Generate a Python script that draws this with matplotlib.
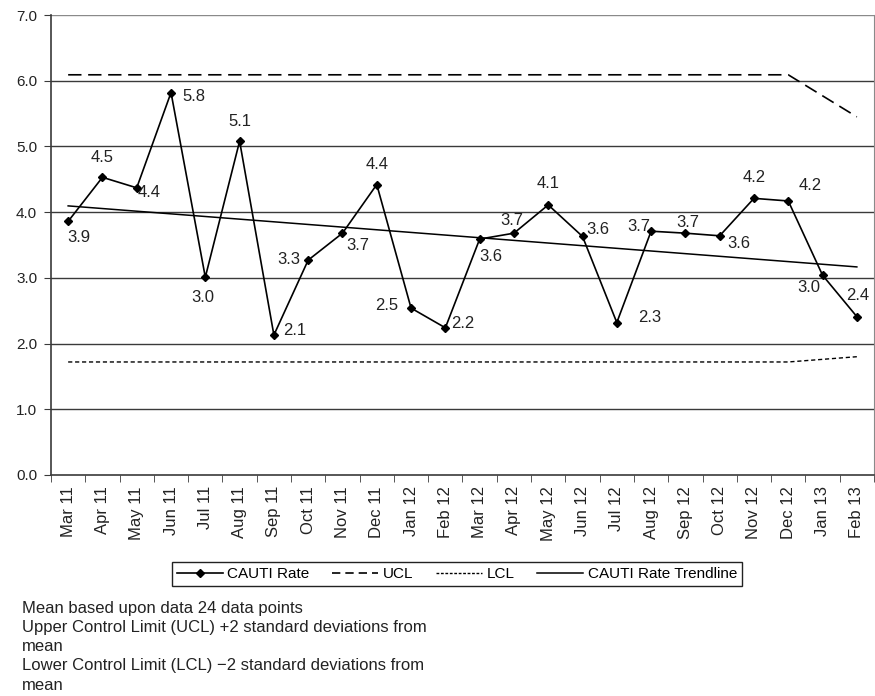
import numpy as np
import matplotlib
matplotlib.use('Agg')
from matplotlib import pyplot as plt
from matplotlib.lines import Line2D

plt.rcParams['font.family'] = ['Liberation Sans', 'DejaVu Sans']

months = ['Mar 11', 'Apr 11', 'May 11', 'Jun 11', 'Jul 11', 'Aug 11', 'Sep 11', 'Oct 11',
          'Nov 11', 'Dec 11', 'Jan 12', 'Feb 12', 'Mar 12', 'Apr 12', 'May 12', 'Jun 12',
          'Jul 12', 'Aug 12', 'Sep 12', 'Oct 12', 'Nov 12', 'Dec 12', 'Jan 13', 'Feb 13']
cauti_rate = [3.86, 4.53, 4.37, 5.82, 3.01, 5.08, 2.13, 3.27, 3.68, 4.42, 2.54, 2.24,
              3.59, 3.68, 4.11, 3.63, 2.32, 3.71, 3.68, 3.64, 4.21, 4.17, 3.04, 2.41]
ucl = [6.09] * 22 + [5.77, 5.45]
lcl = [1.72] * 22 + [1.76, 1.80]

notes = ['Mean based upon data 24 data points',
         'Upper Control Limit (UCL) +2 standard deviations from',
         'mean',
         'Lower Control Limit (LCL) \u22122 standard deviations from',
         'mean']

# label placement: (dx, dy) in pixels, horizontal alignment
label_pos = [(-1, -16, 'left'), (0, 20, 'center'), (1, -5, 'left'), (11, -4, 'left'),
             (-3, -20, 'center'), (0, 20, 'center'), (9, 5, 'left'), (-8, 1, 'right'),
             (4, -12, 'left'), (0, 20, 'center'), (-13, 3, 'right'), (6, 4, 'left'),
             (0, -17, 'left'), (-2, 13, 'center'), (0, 21, 'center'), (4, 7, 'left'),
             (21, 5, 'left'), (-1, 5, 'right'), (2, 11, 'center'), (8, -8, 'left'),
             (0, 21, 'center'), (10, 15, 'left'), (-2, -12, 'right'), (1, 21, 'center')]

x = np.arange(len(months))
slope, icpt = np.polyfit(x, cauti_rate, 1)
trend = slope * x + icpt

fig = plt.figure(figsize=(8.75, 6.96), dpi=100)
ax = fig.add_axes([51 / 875, 1 - 475 / 696, 823 / 875, 460 / 696])

for v in range(1, 8):
    ax.axhline(v, color='#8a8a8a' if v == 7 else '#3a3a3a', lw=1.0, zorder=1)

ax.plot(x, ucl, color='black', lw=1.2, dashes=(8, 4), zorder=2)
ax.plot(x, lcl, color='black', lw=1.0, dashes=(3, 2), zorder=2)
ax.plot(x, trend, color='black', lw=1.1, zorder=2)
ax.plot(x, cauti_rate, color='black', lw=1.2, marker='D', ms=4.5, zorder=3)

for i, v in enumerate(cauti_rate):
    dx, dy, ha = label_pos[i]
    ax.annotate(f'{v:.1f}', (x[i], v), xytext=(dx, dy), textcoords='offset pixels',
                ha=ha, va='center', fontsize=12, color='#222222')

ax.set_xlim(-0.5, len(months) - 0.5)
ax.set_ylim(0, 7)
ax.set_yticks(range(8))
ax.set_yticklabels([f'{v:.1f}' for v in range(8)], fontsize=11, color='#222222')
ax.set_xticks(x)
ax.set_xticklabels(months, rotation=90, fontsize=12, color='#222222')
ax.set_xticks(np.arange(-0.5, len(months)), minor=True)
ax.tick_params(axis='x', which='major', length=0, pad=8)
ax.tick_params(axis='x', which='minor', length=5, color='#3a3a3a')
ax.tick_params(axis='y', length=5, color='#3a3a3a', pad=5)

for s in ['left', 'bottom']:
    ax.spines[s].set_color('#3a3a3a')
    ax.spines[s].set_linewidth(1.2)
ax.spines['top'].set_visible(False)
ax.spines['right'].set_color('#8a8a8a')

handles = [Line2D([], [], color='black', lw=1.2, marker='D', ms=4),
           Line2D([], [], color='black', lw=1.2, dashes=(5, 3)),
           Line2D([], [], color='black', lw=1.0, dashes=(2, 1.2)),
           Line2D([], [], color='black', lw=1.1)]
fig.legend(handles, ['CAUTI Rate', 'UCL', 'LCL', 'CAUTI Rate Trendline'],
           loc='center', bbox_to_anchor=(457 / 875, 1 - 574 / 696), ncol=4,
           fancybox=False, edgecolor='#222222', framealpha=1,
           prop={'size': 11},
           handlelength=3.0, handletextpad=0.3, columnspacing=1.5, borderpad=0.3)

for k, line in enumerate(notes):
    fig.text(22 / 875, 1 - (608 + 19.3 * k) / 696, line, fontsize=12,
             va='center', ha='left', color='#222222')

fig.savefig('out.png', dpi=100)
